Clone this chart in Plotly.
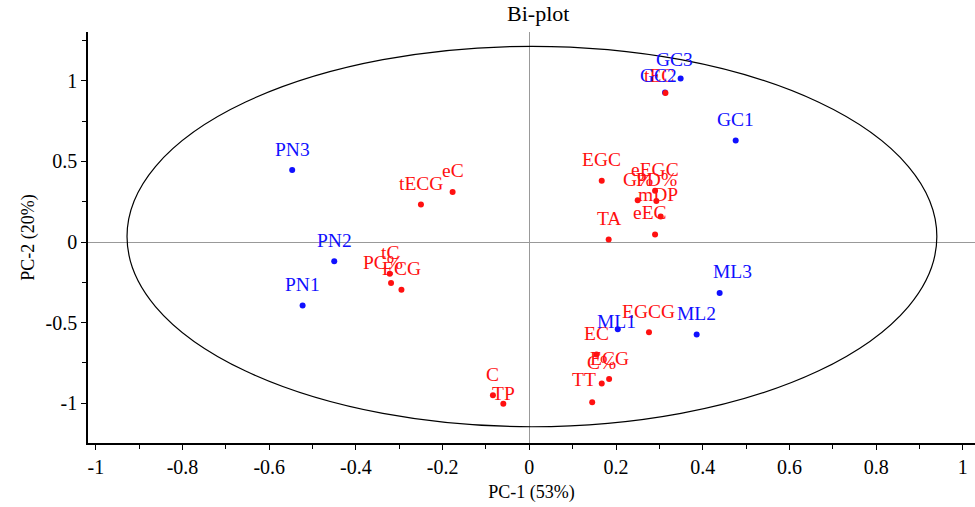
import numpy as np
import plotly.graph_objects as go

# ---------------- data ----------------
sample_names = ["GC1", "GC2", "GC3", "PN1", "PN2", "PN3", "ML1", "ML2", "ML3"]
sample_pc1 = [0.476, 0.313, 0.349, -0.523, -0.450, -0.547, 0.204, 0.386, 0.439]
sample_pc2 = [0.630, 0.928, 1.016, -0.395, -0.120, 0.447, -0.541, -0.574, -0.316]

var_names = ["tEC", "EGC", "eEGC", "G%", "PD%", "mDP", "eEC", "TA", "eC", "tECG",
             "tC", "PC%", "ECG", "EGCG", "EC", "ECG", "C%", "TT", "C", "TP"]
var_pc1 = [0.314, 0.167, 0.290, 0.250, 0.293, 0.303, 0.290, 0.183, -0.177, -0.250,
           -0.322, -0.319, -0.295, 0.276, 0.155, 0.184, 0.167, 0.145, -0.084, -0.060]
var_pc2 = [0.926, 0.380, 0.318, 0.259, 0.255, 0.158, 0.047, 0.016, 0.311, 0.233,
           -0.197, -0.255, -0.297, -0.561, -0.699, -0.851, -0.878, -0.995, -0.951, -1.005]

# Hotelling ellipse (centre and semi-axes)
ellipse_centre = (0.006, 0.034)
ellipse_radii = (0.934, 1.181)

x_tick_vals = [-1, -0.8, -0.6, -0.4, -0.2, 0, 0.2, 0.4, 0.6, 0.8, 1]
x_tick_text = ["-1", "-0.8", "-0.6", "-0.4", "-0.2", "0", "0.2", "0.4", "0.6", "0.8", "1"]
y_tick_vals = [-1, -0.5, 0, 0.5, 1]
y_tick_text = ["-1", "-0.5", "0", "0.5", "1"]

# ---------------- styling ----------------
FONT = "Liberation Serif, Times New Roman, serif"
BLUE = "#1010ff"
RED = "#ff1010"
LABEL_SIZE = 19.5
DEFAULT_SHIFT = (0, 21)
sample_label_shift = {1: (-7, 17), 2: (-6, 19), 6: (-1, 8), 8: (13, 21)}
var_label_shift = {0: (-6, 17), 5: (-3, 22), 6: (-5, 22), 11: (-8, 21), 17: (-8, 23), 19: (0, 10)}

fig = go.Figure()

fig.add_trace(go.Scatter(x=sample_pc1, y=sample_pc2, mode="markers",
                         marker=dict(color=BLUE, size=6), name="samples",
                         hovertext=sample_names, showlegend=False))
fig.add_trace(go.Scatter(x=var_pc1, y=var_pc2, mode="markers",
                         marker=dict(color=RED, size=6), name="variables",
                         hovertext=var_names, showlegend=False))

annotations = []
for i, (n, x, y) in enumerate(zip(var_names, var_pc1, var_pc2)):
    dx, dy = var_label_shift.get(i, DEFAULT_SHIFT)
    annotations.append(dict(x=x, y=y, xref="x", yref="y", text=n, showarrow=False,
                            xshift=dx, yshift=dy,
                            font=dict(family=FONT, size=LABEL_SIZE, color=RED)))
for i, (n, x, y) in enumerate(zip(sample_names, sample_pc1, sample_pc2)):
    dx, dy = sample_label_shift.get(i, DEFAULT_SHIFT)
    annotations.append(dict(x=x, y=y, xref="x", yref="y", text=n, showarrow=False,
                            xshift=dx, yshift=dy,
                            font=dict(family=FONT, size=LABEL_SIZE, color=BLUE)))

cx, cy = ellipse_centre
rx, ry = ellipse_radii
fig.add_shape(type="circle", xref="x", yref="y",
              x0=cx - rx, x1=cx + rx, y0=cy - ry, y1=cy + ry,
              line=dict(color="black", width=1.2))

fig.update_layout(
    width=975, height=507,
    margin=dict(l=88, r=0, t=32, b=64, autoexpand=False),
    paper_bgcolor="white", plot_bgcolor="white",
    font=dict(family=FONT, size=19, color="black"),
    title=dict(text="Bi-plot", x=0.552, xanchor="center", y=1 - 13 / 507,
               yanchor="middle", font=dict(family=FONT, size=22, color="black")),
    annotations=annotations,
    showlegend=False,
)

fig.update_xaxes(
    range=[-1.018, 1.028], tickmode="array", tickvals=x_tick_vals, ticktext=x_tick_text,
    showgrid=False, zeroline=True, zerolinecolor="#999999", zerolinewidth=1,
    showline=True, linecolor="black", linewidth=2, automargin=False,
    ticks="outside", ticklen=5, tickcolor="black", tickwidth=1,
    minor=dict(tickmode="array", tickvals=list(np.round(np.arange(-1.0, 1.01, 0.1), 2)),
               ticks="outside", ticklen=4, tickcolor="black", showgrid=False),
    tickfont=dict(family=FONT, size=20),
    title=dict(text="PC-1 (53%)", font=dict(family=FONT, size=18), standoff=8),
)
fig.update_yaxes(
    range=[-1.248, 1.304], tickmode="array", tickvals=y_tick_vals, ticktext=y_tick_text,
    showgrid=False, zeroline=True, zerolinecolor="#999999", zerolinewidth=1,
    showline=True, linecolor="black", linewidth=1.5, automargin=False,
    ticks="outside", ticklen=5, tickcolor="black", tickwidth=1,
    minor=dict(tickmode="array", tickvals=list(np.round(np.arange(-1.25, 1.26, 0.25), 2)),
               ticks="outside", ticklen=4, tickcolor="black", showgrid=False),
    tickfont=dict(family=FONT, size=20),
    title=dict(text="PC-2 (20%)", font=dict(family=FONT, size=18), standoff=6),
)

fig.write_html("out.html", config={"displayModeBar": False},
               post_script="document.body.style.margin='0px';document.body.style.overflow='hidden';")
